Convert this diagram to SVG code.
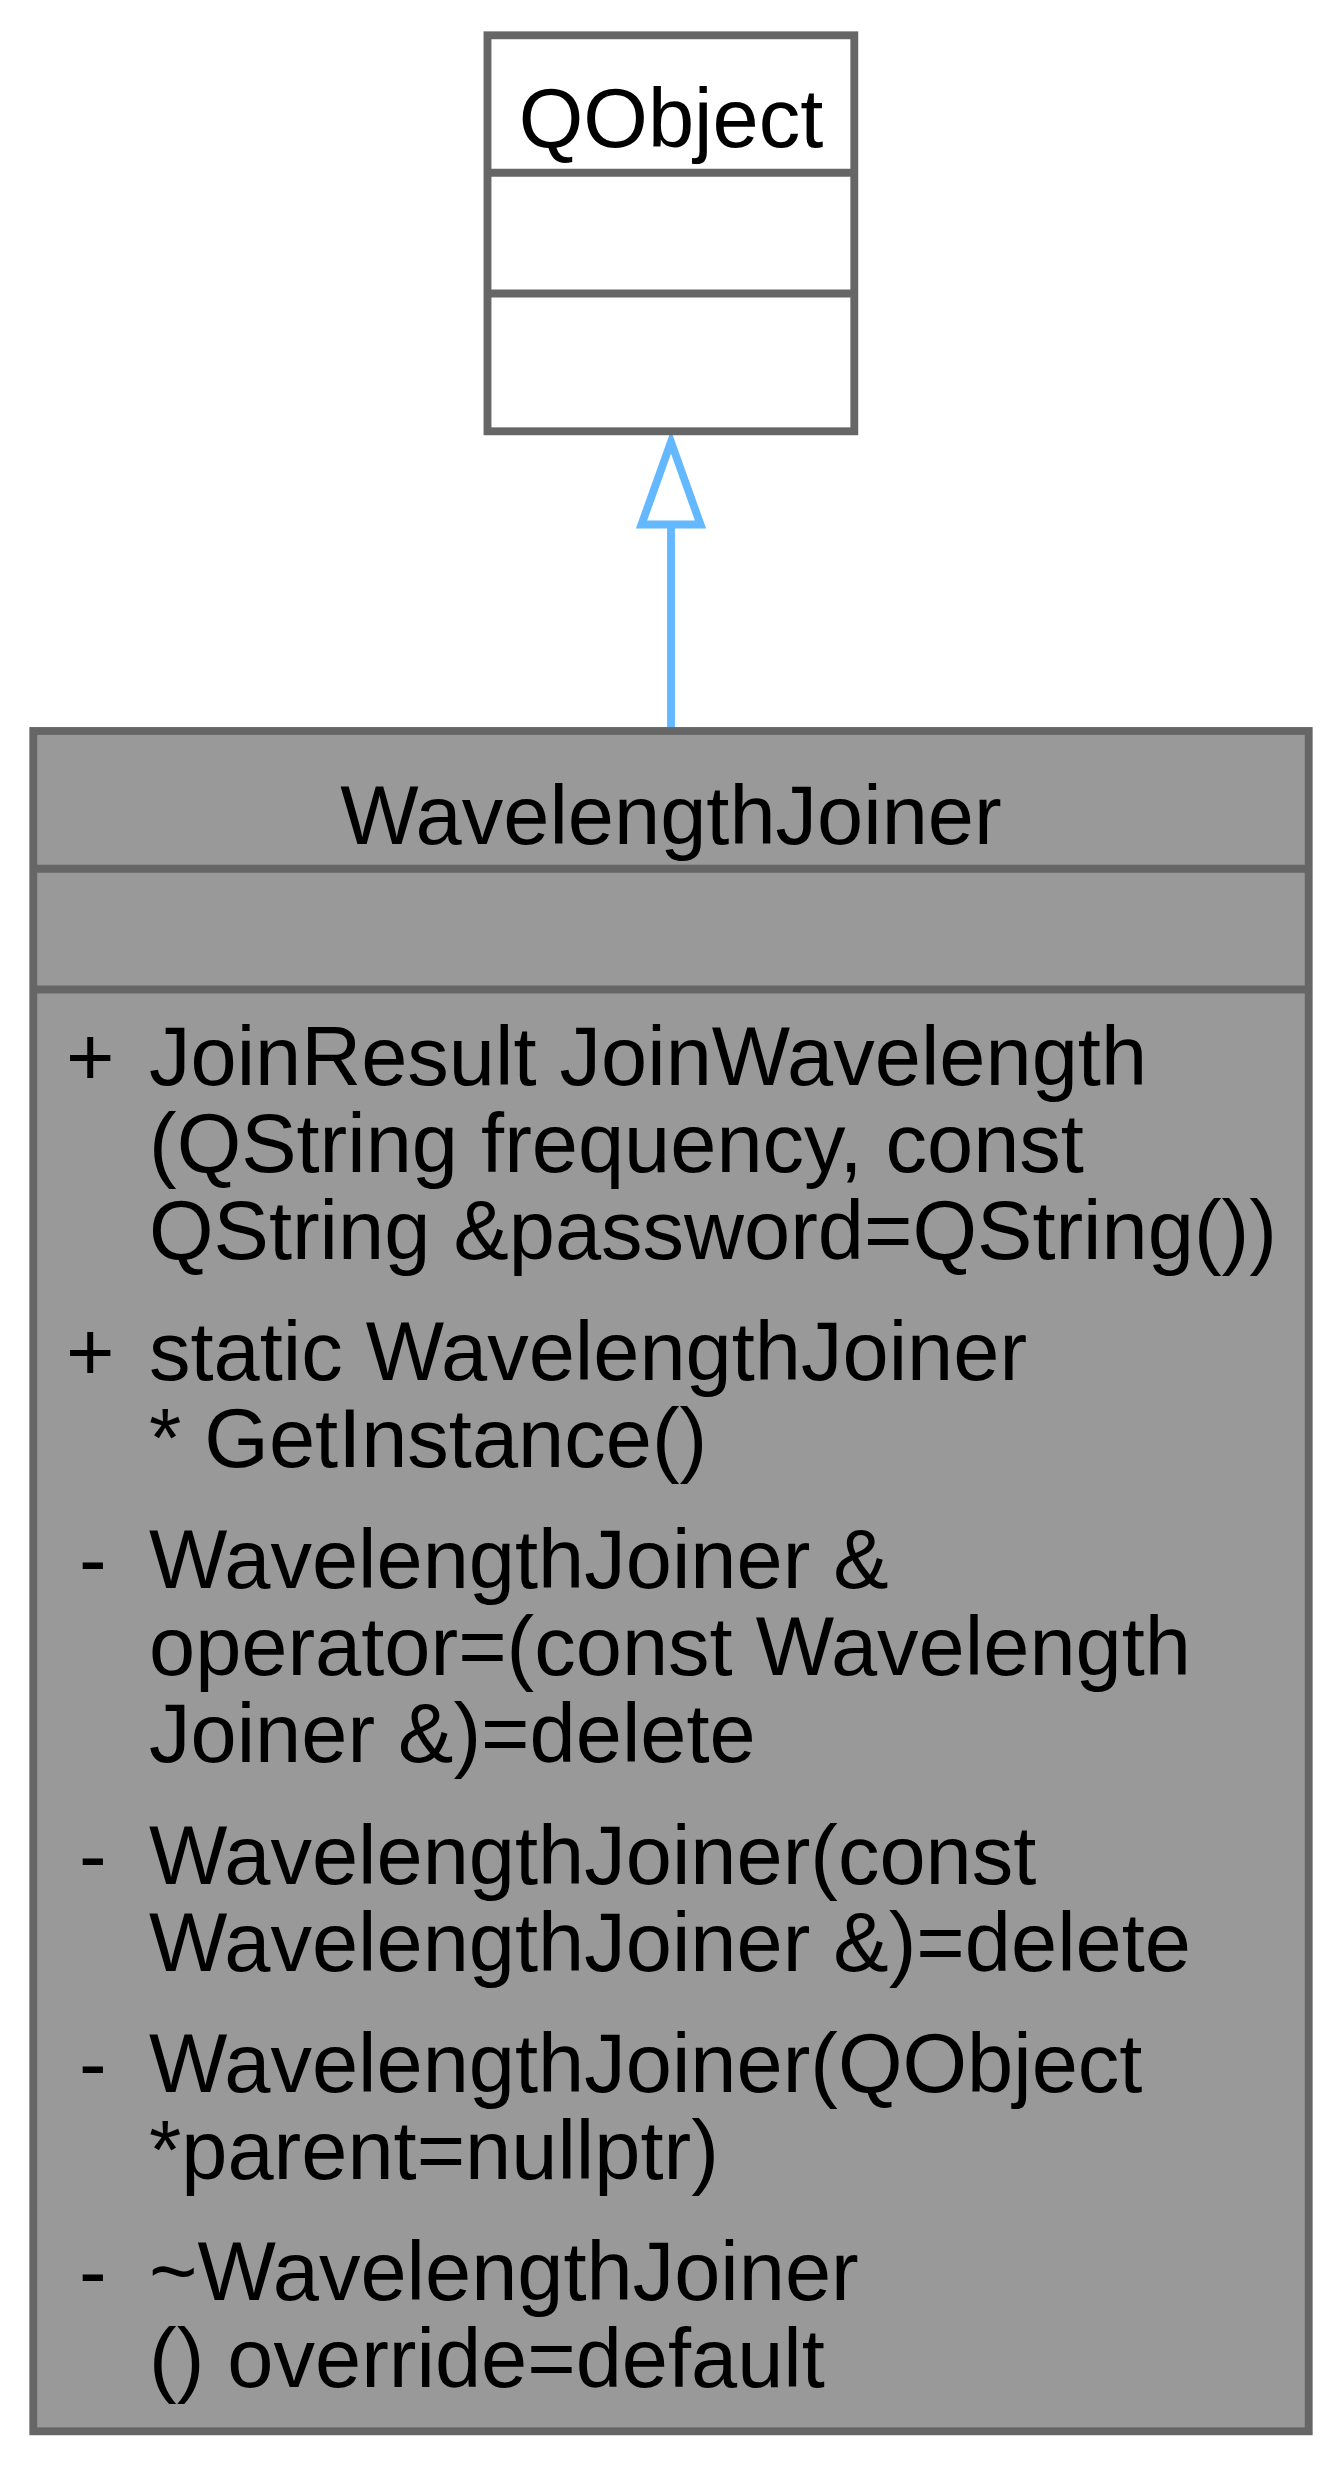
<svg xmlns="http://www.w3.org/2000/svg" width="1342" height="2467" viewBox="0 0 1342 2467">
<defs>
<style>
.box{stroke:#666666;stroke-width:7.87;}
.sep{stroke:#666666;stroke-width:7.87;fill:none;}
text{font-family:"Liberation Sans",Arial,Helvetica,sans-serif;font-size:83px;fill:#000000;}
.mid{text-anchor:middle;}
.edge{stroke:#63b8ff;stroke-width:7.87;fill:none;}
.head{stroke:#63b8ff;stroke-width:7.87;fill:#ffffff;}
</style>
</defs>
<rect x="0" y="0" width="1342" height="2467" fill="#ffffff"/>
<g id="connectors">
<path class="edge" d="M671,731 L671,524.5"/>
<polygon class="head" points="671,442 700.5,524.5 641.5,524.5"/>
</g>
<g id="node-qobject">
<rect class="box" x="487.5" y="35.3" width="366.8" height="396" fill="#ffffff"/>
<line class="sep" x1="487.5" y1="172.7" x2="854.3" y2="172.7"/>
<line class="sep" x1="487.5" y1="293.5" x2="854.3" y2="293.5"/>
<text class="mid" x="671" y="147">QObject</text>
</g>
<g id="node-wavelengthjoiner">
<rect class="box" x="33.3" y="731" width="1275.4" height="1700.3" fill="#999999"/>
<line class="sep" x1="33.3" y1="868.7" x2="1308.7" y2="868.7"/>
<line class="sep" x1="33.3" y1="989.5" x2="1308.7" y2="989.5"/>
<text class="mid" x="671" y="843.5">WavelengthJoiner</text>
<text x="66" y="1085">+</text>
<text x="149" y="1085">JoinResult JoinWavelength</text>
<text x="149" y="1172">(QString frequency, const</text>
<text x="149" y="1259">QString &amp;password=QString())</text>
<text x="66" y="1380">+</text>
<text x="149" y="1380">static WavelengthJoiner</text>
<text x="149" y="1467">* GetInstance()</text>
<text x="79" y="1588">-</text>
<text x="149" y="1588">WavelengthJoiner &amp;</text>
<text x="149" y="1675">operator=(const Wavelength</text>
<text x="149" y="1762">Joiner &amp;)=delete</text>
<text x="79" y="1884">-</text>
<text x="149" y="1884">WavelengthJoiner(const</text>
<text x="149" y="1971">WavelengthJoiner &amp;)=delete</text>
<text x="79" y="2092">-</text>
<text x="149" y="2092">WavelengthJoiner(QObject</text>
<text x="149" y="2179">*parent=nullptr)</text>
<text x="79" y="2300">-</text>
<text x="149" y="2300">~WavelengthJoiner</text>
<text x="149" y="2387">() override=default</text>
</g>
</svg>
